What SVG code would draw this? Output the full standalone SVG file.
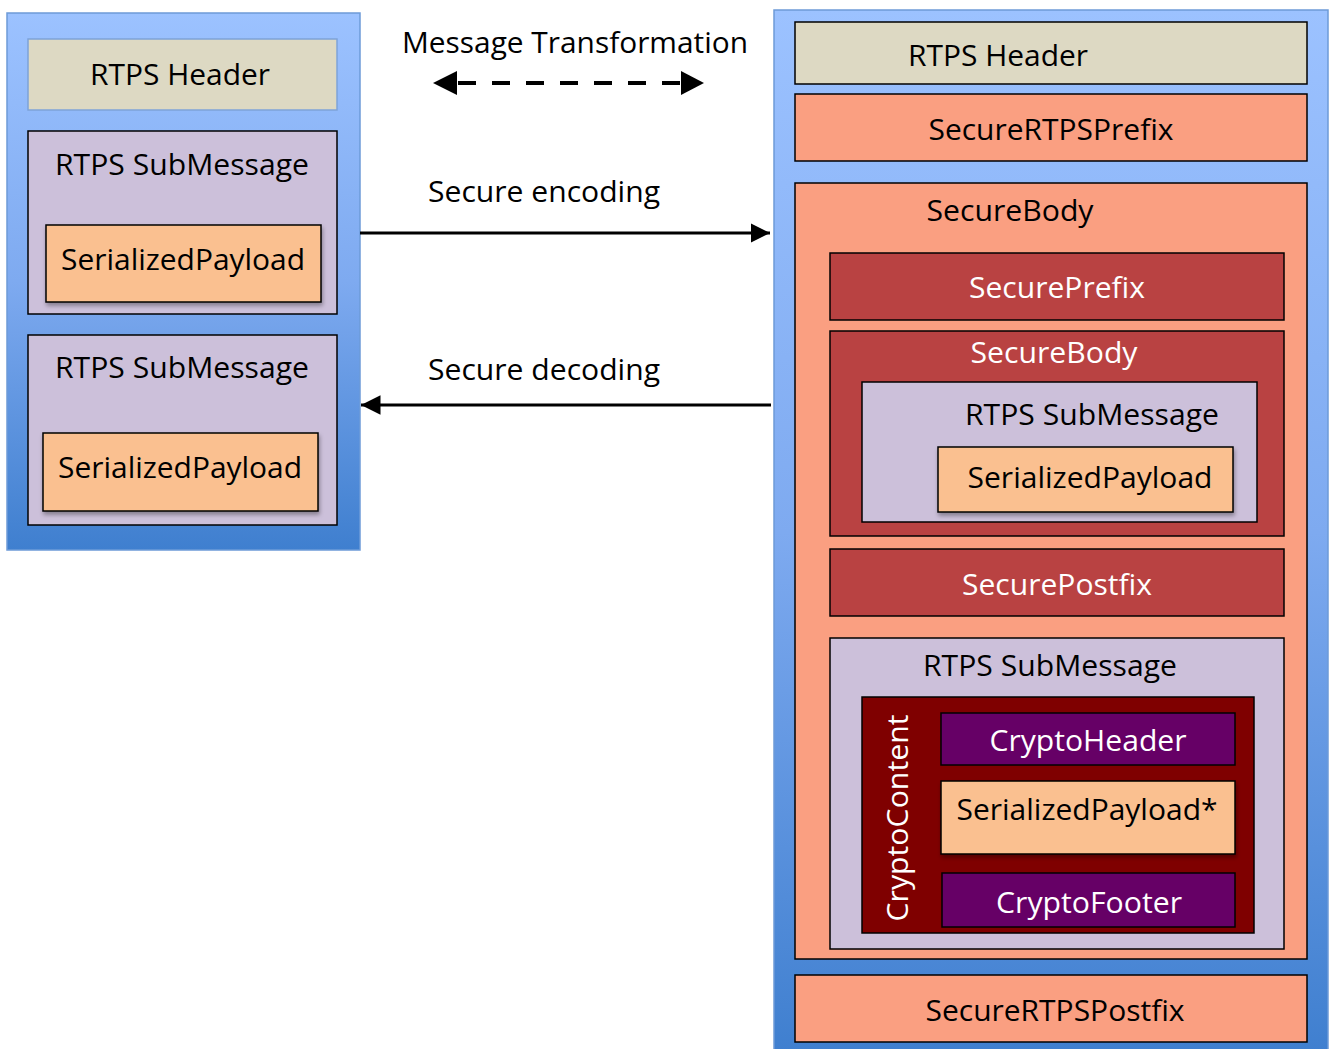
<svg xmlns="http://www.w3.org/2000/svg" width="1330" height="1049" viewBox="0 0 1330 1049">
<style>
text{font-family:"Open Sans","Liberation Sans",sans-serif;font-size:29px;fill:#000}
.w{fill:#fff}
.panel{stroke:#6d9bd8;stroke-width:1.5}
.hdr{fill:#ddd9c3}
.sub{fill:#ccc0da;stroke:#000;stroke-width:1.5}
.pay{fill:#fac090;stroke:#000;stroke-width:1.5}
.sal{fill:#fa9f81;stroke:#000;stroke-width:1.5}
.red{fill:#b94242;stroke:#000;stroke-width:1.5}
.dred{fill:#7f0000;stroke:#000;stroke-width:1.5}
.pur{fill:#660066;stroke:#000;stroke-width:1.5}
.conn{stroke:#000;fill:none}
</style>
<defs>
<linearGradient id="bg" x1="0" y1="0" x2="0" y2="1">
<stop offset="0" stop-color="#9cc2ff"/>
<stop offset="0.5" stop-color="#7eaaf0"/>
<stop offset="1" stop-color="#3f7fcf"/>
</linearGradient>
<filter id="sh" x="-5%" y="-5%" width="115%" height="130%">
<feDropShadow dx="1" dy="3" stdDeviation="2" flood-color="#000" flood-opacity="0.35"/>
</filter>
<marker id="ah" viewBox="0 0 10 10" refX="10" refY="5" markerWidth="6.5" markerHeight="6.5" markerUnits="strokeWidth" orient="auto-start-reverse">
<path d="M0,0 L10,5 L0,10 z" fill="#000"/>
</marker>
<marker id="ahd" viewBox="0 0 10 10" refX="10" refY="5" markerWidth="6" markerHeight="6" markerUnits="strokeWidth" orient="auto-start-reverse">
<path d="M0,0 L10,5 L0,10 z" fill="#000"/>
</marker>
</defs>

<g id="left-message">
<rect class="panel" x="7" y="13" width="353" height="537" fill="url(#bg)"/>
</g>
<g id="left-header">
<rect class="hdr" x="28" y="39" width="309" height="71" stroke="#7ea3d8" stroke-width="1.5"/>
<text x="180" y="85" text-anchor="middle" textLength="180" lengthAdjust="spacingAndGlyphs">RTPS Header</text>
</g>
<g id="left-sub1">
<rect class="sub" x="28" y="131" width="309" height="183"/>
<text x="182" y="175" text-anchor="middle" textLength="254" lengthAdjust="spacingAndGlyphs">RTPS SubMessage</text>
</g>
<g id="left-payload1">
<rect class="pay" x="46" y="225" width="275" height="77" filter="url(#sh)"/>
<text x="183" y="270" text-anchor="middle" textLength="244" lengthAdjust="spacingAndGlyphs">SerializedPayload</text>
</g>
<g id="left-sub2">
<rect class="sub" x="28" y="335" width="309" height="190"/>
<text x="182" y="378" text-anchor="middle" textLength="254" lengthAdjust="spacingAndGlyphs">RTPS SubMessage</text>
</g>
<g id="left-payload2">
<rect class="pay" x="43" y="433" width="275" height="78" filter="url(#sh)"/>
<text x="180" y="478" text-anchor="middle" textLength="244" lengthAdjust="spacingAndGlyphs">SerializedPayload</text>
</g>

<g id="right-message">
<rect class="panel" x="774" y="10" width="554" height="1045" fill="url(#bg)"/>
</g>
<g id="right-header">
<rect class="hdr" x="795" y="22" width="512" height="62" stroke="#000" stroke-width="1.5"/>
<text x="998" y="66" text-anchor="middle" textLength="180" lengthAdjust="spacingAndGlyphs">RTPS Header</text>
</g>
<g id="secure-rtps-prefix">
<rect class="sal" x="795" y="94" width="512" height="67"/>
<text x="1051" y="140" text-anchor="middle" textLength="245" lengthAdjust="spacingAndGlyphs">SecureRTPSPrefix</text>
</g>
<g id="secure-body-outer">
<rect class="sal" x="795" y="183" width="512" height="776"/>
<text x="1010" y="221" text-anchor="middle" textLength="167" lengthAdjust="spacingAndGlyphs">SecureBody</text>
</g>
<g id="secure-prefix">
<rect class="red" x="830" y="253" width="454" height="67"/>
<text class="w" x="1057" y="298" text-anchor="middle" textLength="176" lengthAdjust="spacingAndGlyphs">SecurePrefix</text>
</g>
<g id="secure-body-inner">
<rect class="red" x="830" y="331" width="454" height="205"/>
<text class="w" x="1054" y="363" text-anchor="middle" textLength="167" lengthAdjust="spacingAndGlyphs">SecureBody</text>
</g>
<g id="right-sub1">
<rect class="sub" x="862" y="382" width="395" height="140"/>
<text x="1092" y="425" text-anchor="middle" textLength="254" lengthAdjust="spacingAndGlyphs">RTPS SubMessage</text>
</g>
<g id="right-payload1">
<rect class="pay" x="938" y="447" width="295" height="65" filter="url(#sh)"/>
<text x="1090" y="488" text-anchor="middle" textLength="245" lengthAdjust="spacingAndGlyphs">SerializedPayload</text>
</g>
<g id="secure-postfix">
<rect class="red" x="830" y="549" width="454" height="67"/>
<text class="w" x="1057" y="595" text-anchor="middle" textLength="190" lengthAdjust="spacingAndGlyphs">SecurePostfix</text>
</g>
<g id="right-sub2">
<rect class="sub" x="830" y="638" width="454" height="311"/>
<text x="1050" y="676" text-anchor="middle" textLength="254" lengthAdjust="spacingAndGlyphs">RTPS SubMessage</text>
</g>
<g id="crypto-content">
<rect class="dred" x="862" y="697" width="392" height="236"/>
<text class="w" transform="translate(908,818) rotate(-90)" x="0" y="0" text-anchor="middle" textLength="207" lengthAdjust="spacingAndGlyphs">CryptoContent</text>
</g>
<g id="crypto-header">
<rect class="pur" x="941" y="713" width="294" height="52"/>
<text class="w" x="1088" y="751" text-anchor="middle" textLength="197" lengthAdjust="spacingAndGlyphs">CryptoHeader</text>
</g>
<g id="serialized-payload-star">
<rect class="pay" x="941" y="781" width="294" height="73" filter="url(#sh)"/>
<text x="1087" y="820" text-anchor="middle" textLength="261" lengthAdjust="spacingAndGlyphs">SerializedPayload*</text>
</g>
<g id="crypto-footer">
<rect class="pur" x="942" y="873" width="293" height="54"/>
<text class="w" x="1089" y="913" text-anchor="middle" textLength="186" lengthAdjust="spacingAndGlyphs">CryptoFooter</text>
</g>
<g id="secure-rtps-postfix">
<rect class="sal" x="795" y="975" width="512" height="67"/>
<text x="1055" y="1021" text-anchor="middle" textLength="259" lengthAdjust="spacingAndGlyphs">SecureRTPSPostfix</text>
</g>

<g id="connectors">
<line class="conn" x1="458" y1="83" x2="681" y2="83" stroke-width="4" stroke-dasharray="18 16"/>
<path d="M433,83 L457,71 L457,95 z" fill="#000"/>
<path d="M704,83 L681,71 L681,95 z" fill="#000"/>
<line class="conn" x1="360" y1="233" x2="770" y2="233" stroke-width="3" marker-end="url(#ah)"/>
<line class="conn" x1="771" y1="405" x2="361" y2="405" stroke-width="3" marker-end="url(#ah)"/>
</g>
<g id="labels">
<text x="575" y="53" text-anchor="middle" textLength="346" lengthAdjust="spacingAndGlyphs">Message Transformation</text>
<text x="544" y="202" text-anchor="middle" textLength="232" lengthAdjust="spacingAndGlyphs">Secure encoding</text>
<text x="544" y="380" text-anchor="middle" textLength="232" lengthAdjust="spacingAndGlyphs">Secure decoding</text>
</g>
</svg>
